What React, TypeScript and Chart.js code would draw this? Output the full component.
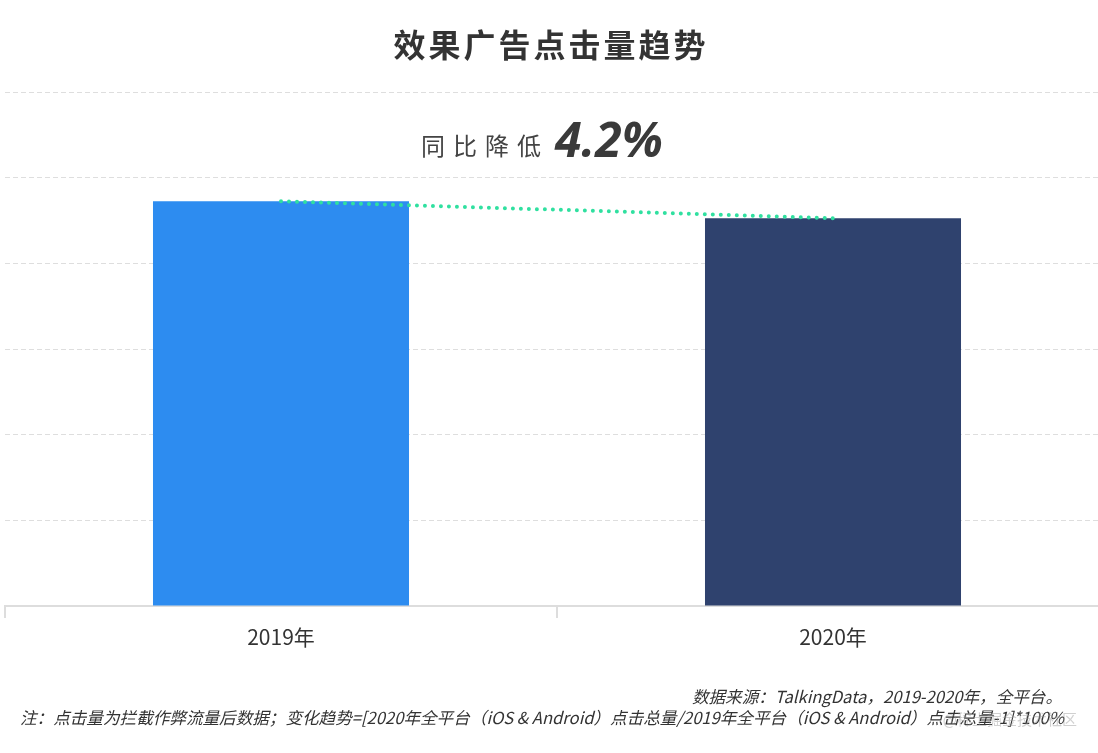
import React, { useEffect, useRef } from "react";
import { Chart, registerables } from "chart.js";

Chart.register(...registerables);

const categories = ["2019年", "2020年"];
const clickValues = [4.725, 4.526];
const barColors = ["#2d8cf0", "#2f426e"];
const yTicks = [0, 1, 2, 3, 4, 5, 6];
const chartTitle = "效果广告点击量趋势";
const changeLabel = "同比降低";
const changeValue = "4.2%";
const sourceNote = "数据来源：TalkingData，2019-2020年，全平台。";
const formulaNote =
  "注：点击量为拦截作弊流量后数据；变化趋势=[2020年全平台（iOS & Android）点击总量/2019年全平台（iOS & Android）点击总量-1]*100%";
const watermark = "@稀土掘金技术社区";

const CJK = '"Noto Sans CJK SC", "Noto Sans", sans-serif';

const textPlugin = {
  id: "textPlugin",
  afterDraw(chart: any) {
    const ctx = chart.ctx as CanvasRenderingContext2D;
    ctx.save();
    // title
    ctx.fillStyle = "#333333";
    ctx.textBaseline = "middle";
    ctx.textAlign = "center";
    ctx.font = `bold 32px ${CJK}`;
    (ctx as any).letterSpacing = "3px";
    ctx.fillText(chartTitle, 551, 45);

    // change annotation
    (ctx as any).letterSpacing = "8px";
    ctx.font = `24px ${CJK}`;
    ctx.fillStyle = "#444444";
    ctx.textAlign = "left";
    ctx.textBaseline = "alphabetic";
    ctx.fillText(changeLabel, 421, 155);
    (ctx as any).letterSpacing = "0px";
    ctx.font = `italic bold 48px "Noto Sans", "Open Sans", sans-serif`;
    ctx.fillStyle = "#3a3a3a";
    ctx.fillText(changeValue, 555, 157);

    // footnotes
    ctx.font = `italic 16.6px ${CJK}`;
    ctx.fillStyle = "#333333";
    ctx.textBaseline = "middle";
    ctx.textAlign = "right";
    ctx.fillText(sourceNote, 1062, 697);
    ctx.textAlign = "left";
    ctx.fillText(formulaNote, 20, 718, 1044);

    // watermark
    ctx.font = `15px ${CJK}`;
    ctx.fillStyle = "rgba(150,150,150,0.45)";
    ctx.textAlign = "right";
    ctx.fillText(watermark, 1077, 719);
    ctx.restore();
  },
};

export default function App() {
  const canvasRef = useRef<HTMLCanvasElement | null>(null);

  useEffect(() => {
    if (!canvasRef.current) return;
    const chart = new Chart(canvasRef.current, {
      type: "bar",
      data: {
        labels: categories,
        datasets: [
          {
            type: "line",
            label: "趋势",
            data: clickValues,
            borderColor: "#30e0a0",
            borderWidth: 4,
            borderDash: [0, 8],
            borderCapStyle: "round",
            pointRadius: 0,
            fill: false,
            order: 0,
          } as any,
          {
            type: "bar",
            label: "点击量",
            data: clickValues,
            backgroundColor: barColors,
            barPercentage: 0.4638,
            categoryPercentage: 1,
            order: 1,
          },
        ],
      },
      options: {
        animation: false,
        responsive: true,
        maintainAspectRatio: false,
        layout: { padding: { top: 92, left: 5, right: 1, bottom: 97.8 } },
        plugins: {
          legend: { display: false },
          title: { display: false },
          tooltip: { enabled: false },
        },
        scales: {
          x: {
            offset: true,
            grid: {
              offset: true,
              drawOnChartArea: false,
              drawTicks: true,
              tickLength: 12,
              color: "#dddddd",
              lineWidth: 2,
            },
            border: { display: true, color: "#dddddd", width: 2 },
            ticks: {
              color: "#333333",
              padding: 6,
              font: { size: 21, family: CJK },
            },
          },
          y: {
            min: yTicks[0],
            max: yTicks[yTicks.length - 1],
            afterBuildTicks: (axis: any) => {
              axis.ticks = yTicks.map((v) => ({ value: v }));
            },
            ticks: { display: false, stepSize: 1 },
            grid: {
              drawTicks: false,
              color: "#dedede",
              lineWidth: 1,
            },
            border: { display: false, dash: [5, 3] },
          },
        },
      },
      plugins: [textPlugin],
    });
    return () => chart.destroy();
  }, []);

  return (
    <div
      style={{
        position: "fixed",
        left: 0,
        top: 0,
        width: 1110,
        height: 753,
        background: "#ffffff",
      }}
    >
      <canvas ref={canvasRef} />
    </div>
  );
}
